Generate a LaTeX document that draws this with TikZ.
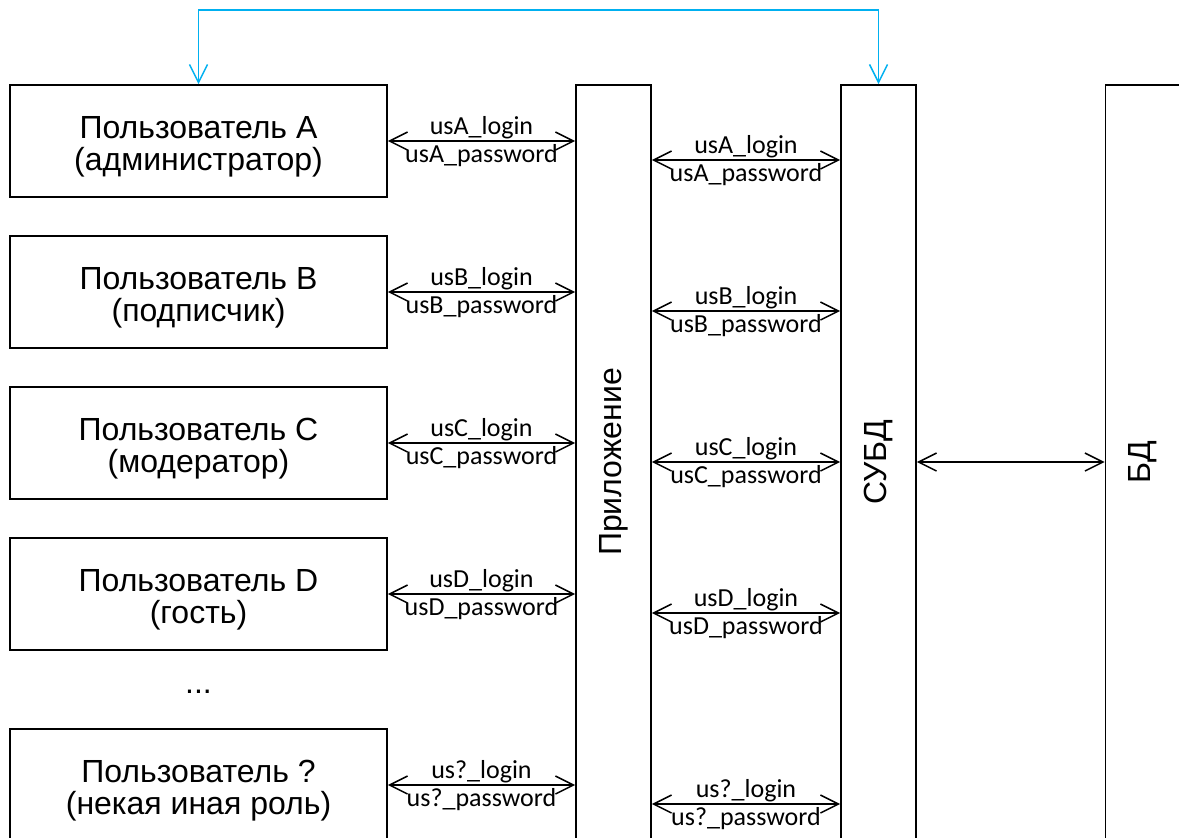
\documentclass[tikz,border=0pt]{standalone}
\usepackage{fontspec}
\setmainfont{Liberation Sans}
\newfontfamily\calfont{Carlito}
\usetikzlibrary{arrows.meta,positioning,calc}

\definecolor{linkblue}{RGB}{0,176,240}

\newcommand{\ulabel}[2]{\raisebox{-7.8pt}[0pt][0pt]{\begin{tabular}{@{}c@{}}#1\\#2\end{tabular}}}

\tikzset{
    barb/.tip={Straight Barb[length=9pt,width=9pt]},
}

\begin{document}
\begin{tikzpicture}[x=0.5pt,y=-0.5pt,
    user/.style={draw, line width=0.9pt, minimum width=188.5pt, minimum height=56pt,
        inner sep=0pt, font=\fontsize{16}{16.3}\selectfont},
    block/.style={draw, line width=0.9pt, minimum width=37.5pt, minimum height=377pt, inner sep=0pt},
    vtext/.style={rotate=90, font=\fontsize{16}{18}\selectfont},
    link/.style={barb-barb, line width=0.75pt},
    lbl/.style={font=\calfont\fontsize{13}{14}\selectfont, inner sep=1pt},
    lblup/.style={lbl, above, inner ysep=0.5pt},
    lbldown/.style={lbl, below, inner ysep=1.5pt},
]
    \clip (0,0) rectangle (1179,837);

    % users
    \node[user] (uA) at (198.5,141) {\ulabel{Пользователь A}{(администратор)}};
    \node[user] (uB) at (198.5,292) {\ulabel{Пользователь B}{(подписчик)}};
    \node[user] (uC) at (198.5,443) {\ulabel{Пользователь C}{(модератор)}};
    \node[user] (uD) at (198.5,594) {\ulabel{Пользователь D}{(гость)}};
    \node[font=\fontsize{16}{18}\selectfont] (dots) at (198.5,692) {...};
    \node[user] (uQ) at (198.5,785) {\ulabel{Пользователь ?}{(некая иная роль)}};

    % columns
    \node[block] (app) at (613.5,462) {};
    \node[vtext] (appname) at (app) {Приложение};
    \node[block] (dbms) at (878.5,462) {};
    \node[vtext] (dbmsname) at (dbms) {СУБД};
    \node[block] (db) at (1143,462) {};
    \node[vtext] (dbname) at (db) {БД};

    % logins
    \foreach \u/\n in {uA/A,uB/B,uC/C,uD/D,uQ/?} {
        \draw[link] (\u.east) -- (\u.east -| app.west)
            node[midway, lblup] {us\n\_login}
            node[midway, lbldown] {us\n\_password};
        \draw[link] ($(\u.east -| app.east)+(0,19)$) -- ($(\u.east -| dbms.west)+(0,19)$)
            node[midway, lblup] {us\n\_login}
            node[midway, lbldown] {us\n\_password};
    }

    \draw[link] (dbms.east) -- (db.west);

    \coordinate (top) at (538,10);
    \draw[barb-barb, line width=0.75pt, linkblue] (uA.north) |- (top) -| (dbms.north);
\end{tikzpicture}
\end{document}
